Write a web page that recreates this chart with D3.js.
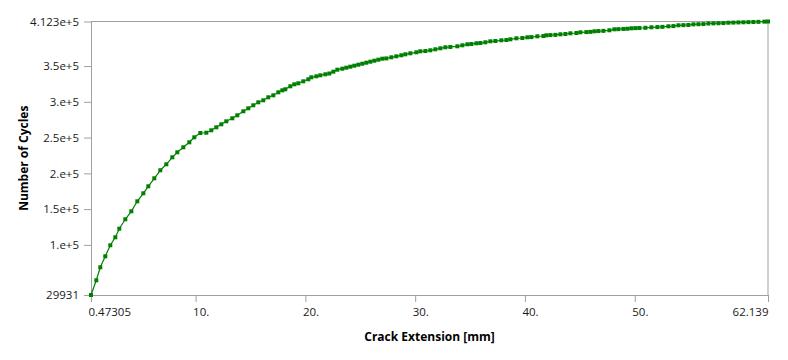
<!DOCTYPE html>
<html><head><meta charset="utf-8">
<script src="https://cdn.jsdelivr.net/npm/d3@7"></script>
<style>
body{margin:0;background:#fff;}
svg text{font-family:"Open Sans","Noto Sans",sans-serif;}
</style></head>
<body><svg id="c" width="788" height="360"></svg>
<script>
const crackExtension = [0.47305,0.956,1.320,1.776,2.231,2.687,3.051,3.598,4.145,4.691,5.238,5.693,6.240,6.786,7.333,7.879,8.335,8.881,9.428,9.883,10.430,10.976,11.432,11.887,12.343,12.798,13.345,13.800,14.347,14.803,15.258,15.714,16.169,16.625,17.080,17.536,17.900,18.173,18.629,18.993,19.358,19.813,20.269,20.542,20.998,21.362,21.818,22.182,22.546,22.911,23.366,23.730,24.095,24.459,24.824,25.188,25.553,25.917,26.281,26.646,27.010,27.375,27.830,28.286,28.741,29.106,29.561,30.108,30.472,30.928,31.384,31.839,32.295,32.750,33.206,33.843,34.299,34.754,35.119,35.574,35.939,36.394,36.850,37.305,37.852,38.308,38.672,39.219,39.765,40.221,40.585,41.132,41.679,41.952,42.317,42.772,43.228,43.683,44.139,44.686,45.050,45.597,45.961,46.326,46.690,47.146,47.692,48.148,48.512,48.968,49.332,49.697,50.061,50.426,50.972,51.519,52.065,52.521,53.068,53.523,53.979,54.434,54.890,55.345,55.801,56.256,56.712,57.167,57.623,58.078,58.534,58.989,59.445,59.900,60.356,60.811,61.267,61.813,62.139];
const cycles = [29931,50500,68670,84050,99430,110610,122630,135780,146960,160940,172120,181910,193090,204280,212670,222450,229440,236430,243420,250410,256420,256800,260200,264390,268590,272780,276970,281170,286760,290950,295150,299340,302140,306330,309130,313320,316120,317520,321710,324510,325900,328700,331500,334290,335690,337090,338490,339600,342120,344920,346310,347710,349110,350510,351910,353300,354700,356100,357500,358900,360290,360700,362250,363650,365050,366450,367840,369240,370640,371000,372040,373440,374830,376230,376700,377630,379030,380430,380800,381820,382200,383220,384620,385000,386020,386400,387420,388810,389200,390210,390500,391610,392000,393010,393300,393600,394410,394800,395800,396200,397200,397500,397800,398600,398900,399200,400000,401400,401600,401900,402200,402800,403000,403200,403500,404200,404500,404800,405600,405900,407000,407200,407400,408300,408500,408700,409500,409700,409900,410100,410600,410800,411000,411200,411400,411600,411800,412100,412300];
const xTickValues = [0.47305,10,20,30,40,50,62.139];
const xTickLabels = ["0.47305","10.","20.","30.","40.","50.","62.139"];
const yTickValues = [29931,100000,150000,200000,250000,300000,350000,412300];
const yTickLabels = ["29931","1.e+5","1.5e+5","2.e+5","2.5e+5","3.e+5","3.5e+5","4.123e+5"];
const xTitle = "Crack Extension [mm]";
const yTitle = "Number of Cycles";

const svg = d3.select("#c");
const L=91, R=768, T=21.5, B=295;
const x = d3.scaleLinear().domain([0.47305,62.139]).range([L,R]);
const y = d3.scaleLinear().domain([29931,412300]).range([B,T]);
const grey="#a0a0a0";

// frame top & right
svg.append("line").attr("x1",L).attr("x2",R).attr("y1",T).attr("y2",T).attr("stroke",grey);
svg.append("line").attr("x1",R).attr("x2",R).attr("y1",T).attr("y2",B).attr("stroke",grey);

const xAxis = svg.append("g").attr("transform",`translate(0,${B})`)
  .call(d3.axisBottom(x).tickValues(xTickValues).tickFormat((d,i)=>xTickLabels[i]).tickSize(7).tickSizeOuter(0).tickPadding(6));
const yAxis = svg.append("g").attr("transform",`translate(${L},0)`)
  .call(d3.axisLeft(y).tickValues(yTickValues).tickFormat((d,i)=>yTickLabels[i]).tickSize(7).tickSizeOuter(0).tickPadding(5));
[xAxis,yAxis].forEach(g=>{
  g.select(".domain").attr("stroke",grey);
  g.selectAll(".tick line").attr("stroke",grey);
  g.selectAll(".tick text").attr("fill","#1a1a1a").style("font-size","11.5px");
});
xAxis.selectAll(".tick text").attr("text-anchor",(d,i)=>i===xTickValues.length-1?"end":"start")
  .attr("dx",(d,i)=>i===xTickValues.length-1?"0":"-3");

svg.append("text").attr("x",(L+R)/2).attr("y",341).attr("text-anchor","middle")
  .style("font-size","12px").style("font-weight","bold").attr("fill","#000").text(xTitle);
svg.append("text").attr("transform",`translate(28,${(T+B)/2}) rotate(-90)`).attr("text-anchor","middle")
  .style("font-size","12px").style("font-weight","bold").attr("fill","#000").text(yTitle);

const pts = crackExtension.map((d,i)=>[d,cycles[i]]);
const green="#008000";
svg.append("path").datum(pts).attr("fill","none").attr("stroke",green).attr("stroke-width",1.2)
  .attr("d",d3.line().x(d=>x(d[0])).y(d=>y(d[1])));
svg.append("g").selectAll("rect").data(pts).join("rect")
  .attr("x",d=>x(d[0])-2).attr("y",d=>y(d[1])-2).attr("width",4).attr("height",4).attr("fill",green);
</script></body></html>
